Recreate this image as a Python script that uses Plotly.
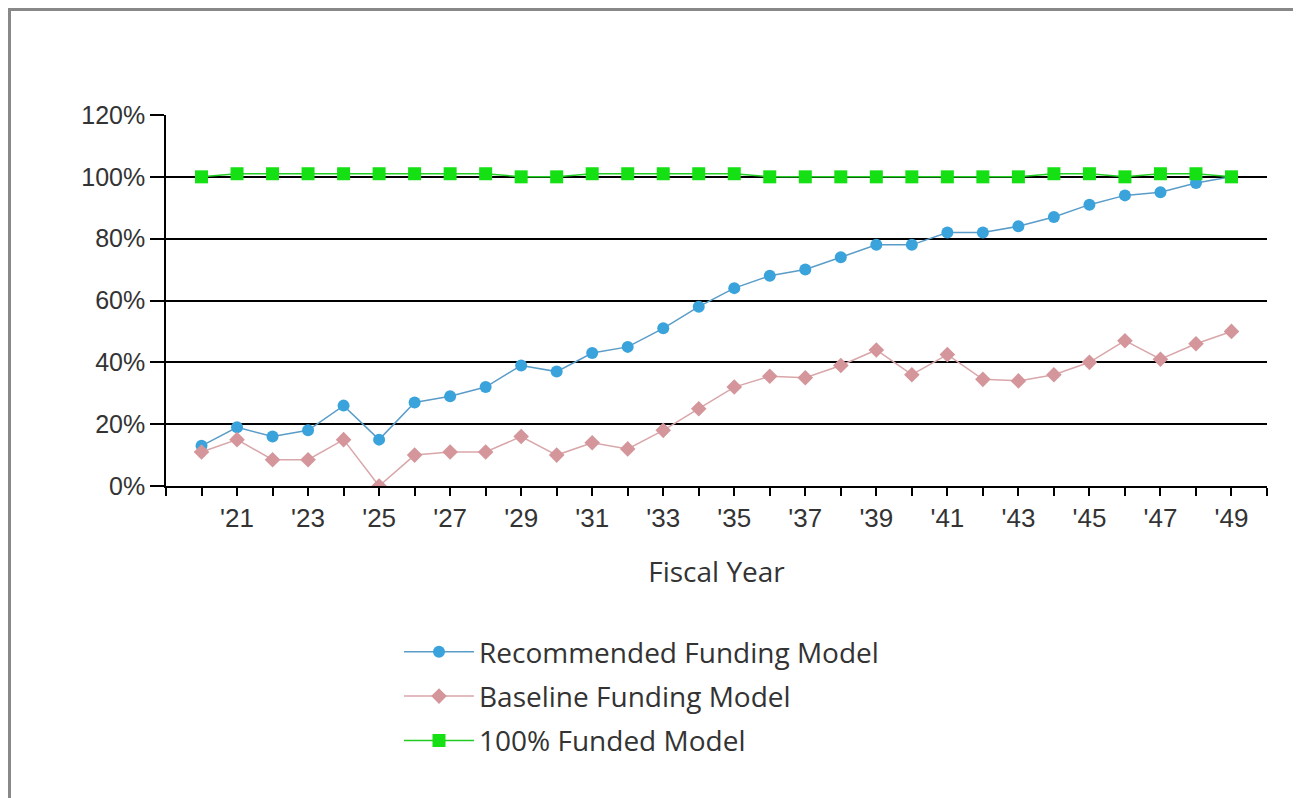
import plotly.graph_objects as go

years = list(range(2020, 2050))
recommended = [13, 19, 16, 18, 26, 15, 27, 29, 32, 39, 37, 43, 45, 51, 58, 64, 68, 70, 74, 78,
               78, 82, 82, 84, 87, 91, 94, 95, 98, 100]
baseline = [11, 15, 8.5, 8.5, 15, 0, 10, 11, 11, 16, 10, 14, 12, 18, 25, 32, 35.5, 35, 39, 44,
            36, 42.5, 34.5, 34, 36, 40, 47, 41, 46, 50]
funded = [100, 101, 101, 101, 101, 101, 101, 101, 101, 100, 100, 101, 101, 101, 101, 101, 100, 100, 100, 100,
          100, 100, 100, 100, 101, 101, 100, 101, 101, 100]

series_names = ["Recommended Funding Model", "Baseline Funding Model", "100% Funded Model"]
y_ticks = [0, 20, 40, 60, 80, 100, 120]
y_ticktext = [f"{v}%" for v in y_ticks]
x_tickvals = list(range(2019, 2051))
x_ticktext = [("'" + str(y)[2:]) if (y % 2 == 1 and 2021 <= y <= 2049) else "" for y in x_tickvals]

OFF = 8  # page body offset
W, H = 1301 - OFF, 798 - OFF
L, R, T, B = 166 - OFF, 1267 - OFF, 115 - OFF, 486 - OFF

fig = go.Figure()
fig.add_trace(go.Scatter(x=years, y=recommended, name=series_names[0], mode="lines+markers",
                         line=dict(color="#5a9cc8", width=1.5),
                         marker=dict(symbol="circle", size=12, color="#3aa3dc"),
                         legendgroup="a"))
fig.add_trace(go.Scatter(x=years, y=baseline, name=series_names[1], mode="lines+markers",
                         line=dict(color="#d9a6aa", width=1.5),
                         marker=dict(symbol="diamond", size=12, color="#d4969b"),
                         legendgroup="b"))
fig.add_trace(go.Scatter(x=years, y=funded, name=series_names[2], mode="lines+markers",
                         line=dict(color="#22cc22", width=1.5),
                         marker=dict(symbol="square", size=13, color="#14e014"),
                         legendgroup="c"))

def px_x(p):
    return (p - OFF - L) / (R - L)

def px_y(p):
    return (B - (p - OFF)) / (B - T)

fig.update_layout(
    width=W, height=H,
    margin=dict(l=L, r=W - R, t=T, b=H - B, autoexpand=False),
    paper_bgcolor="white", plot_bgcolor="white",
    showlegend=True,
    legend=dict(x=px_x(399), y=px_y(627), xanchor="left", yanchor="top",
                font=dict(family="Open Sans", size=28, color="#333333"),
                tracegroupgap=5, itemwidth=70, bgcolor="rgba(0,0,0,0)"),
    xaxis=dict(range=[2019, 2050], tickmode="array", tickvals=x_tickvals, ticktext=x_ticktext,
               showgrid=False, zeroline=False, showline=True, linecolor="black", linewidth=2,
               ticks="outside", ticklen=8, tickwidth=1.5, tickcolor="black",
               tickfont=dict(family="Liberation Sans", size=26, color="#333333"),
               title=dict(text="Fiscal Year", standoff=30,
                          font=dict(family="Open Sans", size=28, color="#333333"))),
    yaxis=dict(range=[0, 120], tickmode="array", tickvals=y_ticks, ticktext=y_ticktext,
               showgrid=True, gridcolor="black", gridwidth=2, zeroline=False,
               showline=True, linecolor="black", linewidth=1.5,
               ticks="outside", ticklen=14, tickwidth=1.5, tickcolor="black",
               tickfont=dict(family="Liberation Sans", size=25, color="#333333")),
    shapes=[
        dict(type="line", xref="paper", yref="paper", x0=px_x(9.5), x1=px_x(9.5), y0=px_y(9), y1=px_y(798),
             line=dict(color="#888888", width=3)),
        dict(type="line", xref="paper", yref="paper", x0=px_x(8), x1=px_x(1301), y0=px_y(9.5), y1=px_y(9.5),
             line=dict(color="#888888", width=3)),
    ],
)

fig.write_html("out.html")
